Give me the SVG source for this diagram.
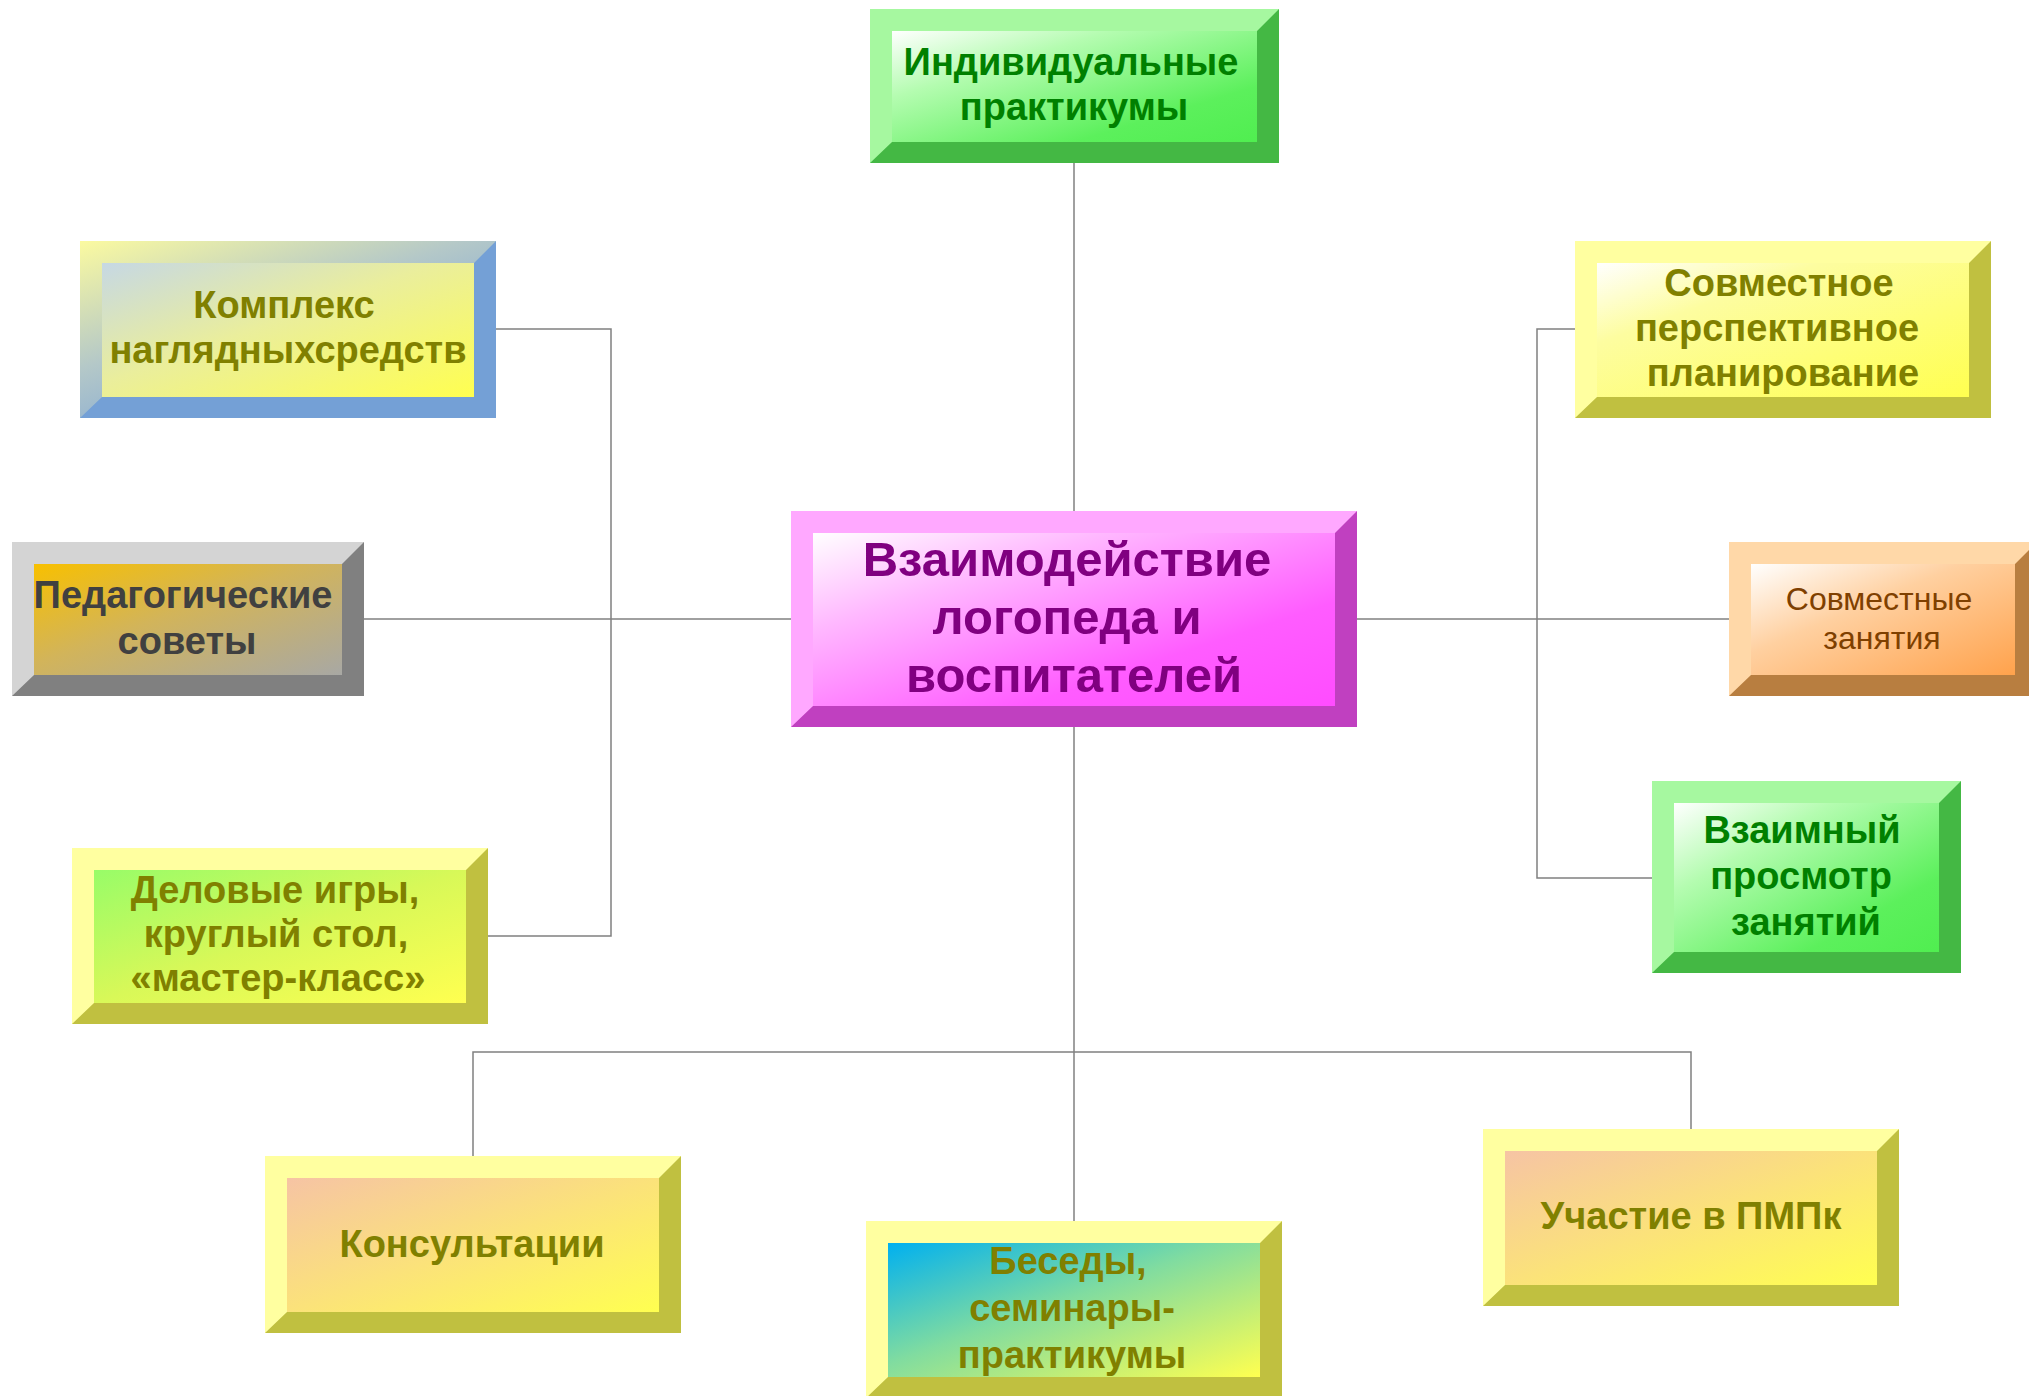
<svg xmlns="http://www.w3.org/2000/svg" width="2029" height="1396" viewBox="0 0 2029 1396">
<defs>
<linearGradient id="gGreen" x1="0" y1="0" x2="1" y2="1"><stop offset="0" stop-color="#ffffff"/><stop offset="0.3" stop-color="#b4fcb0"/><stop offset="0.75" stop-color="#5cf05c"/><stop offset="1" stop-color="#50ee50"/></linearGradient>
<linearGradient id="gKompl" x1="0" y1="0" x2="1" y2="1"><stop offset="0" stop-color="#c6d8e4"/><stop offset="0.45" stop-color="#eaee9c"/><stop offset="1" stop-color="#ffff50"/></linearGradient>
<linearGradient id="gKomplBevel" x1="0" y1="0" x2="0.7" y2="0.9"><stop offset="0" stop-color="#fbfaa0"/><stop offset="0.5" stop-color="#b4c8c8"/><stop offset="1" stop-color="#76a0d8"/></linearGradient>
<linearGradient id="gPed" x1="0" y1="0" x2="1" y2="1"><stop offset="0" stop-color="#f8c000"/><stop offset="0.45" stop-color="#d2b45a"/><stop offset="1" stop-color="#a8a8a4"/></linearGradient>
<linearGradient id="gPink" x1="0" y1="0" x2="1" y2="1"><stop offset="0" stop-color="#ffffff"/><stop offset="0.28" stop-color="#ffb8ff"/><stop offset="0.7" stop-color="#ff5cff"/><stop offset="1" stop-color="#ff4cff"/></linearGradient>
<linearGradient id="gDel" x1="0" y1="0" x2="1" y2="1"><stop offset="0" stop-color="#98fc68"/><stop offset="0.5" stop-color="#d8f858"/><stop offset="1" stop-color="#ffff50"/></linearGradient>
<linearGradient id="gYellow" x1="0" y1="0" x2="1" y2="1"><stop offset="0" stop-color="#ffffff"/><stop offset="0.3" stop-color="#fdfda0"/><stop offset="1" stop-color="#ffff50"/></linearGradient>
<linearGradient id="gOrange" x1="0" y1="0" x2="1" y2="1"><stop offset="0" stop-color="#ffffff"/><stop offset="0.4" stop-color="#ffd0a0"/><stop offset="1" stop-color="#ffa24c"/></linearGradient>
<linearGradient id="gPeach" x1="0" y1="0" x2="1" y2="1"><stop offset="0" stop-color="#f6c4a4"/><stop offset="0.5" stop-color="#fbe27a"/><stop offset="1" stop-color="#ffff50"/></linearGradient>
<linearGradient id="gCyan" x1="0" y1="0" x2="1" y2="1"><stop offset="0" stop-color="#00b0f0"/><stop offset="0.45" stop-color="#80dca0"/><stop offset="1" stop-color="#ffff50"/></linearGradient>
<style>
.t{font-family:"Liberation Sans",Arial,sans-serif;font-weight:bold;font-size:38px;text-anchor:middle}
.olive{fill:#808000}
.green{fill:#008000}
.conn{stroke:#808080;stroke-width:1.5;fill:none}
</style>
</defs>
<rect width="2029" height="1396" fill="#ffffff"/>

<g id="connectors">
<path class="conn" d="M1074,163 V511"/>
<path class="conn" d="M1074,727 V1221"/>
<path class="conn" d="M364,619 H791"/>
<path class="conn" d="M1357,619 H1729"/>
<path class="conn" d="M496,329 H611 V936 H488"/>
<path class="conn" d="M1575,329 H1537 V878 H1652"/>
<path class="conn" d="M473,1156 V1052 H1691 V1129"/>
</g>

<g id="node-individual">
<rect x="870" y="9" width="409" height="154" fill="#a6f8a0"/>
<polygon points="1279,9 1279,163 870,163 892,142 1257,142 1257,31" fill="#44b844"/>
<rect x="892" y="31" width="365" height="111" fill="url(#gGreen)"/>
<text class="t green" x="1071" y="75">Индивидуальные</text>
<text class="t green" x="1074" y="120">практикумы</text>
</g>

<g id="node-kompleks">
<rect x="80" y="241" width="416" height="177" fill="url(#gKomplBevel)"/>
<polygon points="496,241 496,418 80,418 102,397 474,397 474,263" fill="#74a0d6"/>
<rect x="102" y="263" width="372" height="134" fill="url(#gKompl)"/>
<text class="t olive" x="284" y="318">Комплекс</text>
<text class="t olive" x="288" y="363">наглядныхсредств</text>
</g>

<g id="node-pedsovet">
<rect x="12" y="542" width="352" height="154" fill="#d4d4d4"/>
<polygon points="364,542 364,696 12,696 34,675 342,675 342,564" fill="#808080"/>
<rect x="34" y="564" width="308" height="111" fill="url(#gPed)"/>
<text class="t" fill="#404040" x="183" y="608">Педагогические</text>
<text class="t" fill="#404040" x="187" y="654">советы</text>
</g>

<g id="node-center">
<rect x="791" y="511" width="566" height="216" fill="#ffa8ff"/>
<polygon points="1357,511 1357,727 791,727 813,706 1335,706 1335,533" fill="#c040c0"/>
<rect x="813" y="533" width="522" height="173" fill="url(#gPink)"/>
<text class="t" fill="#800080" style="font-size:49px" x="1067" y="576">Взаимодействие</text>
<text class="t" fill="#800080" style="font-size:49px" x="1067" y="634">логопеда и</text>
<text class="t" fill="#800080" style="font-size:49px" x="1074" y="692">воспитателей</text>
</g>

<g id="node-delovye">
<rect x="72" y="848" width="416" height="176" fill="#ffffa0"/>
<polygon points="488,848 488,1024 72,1024 94,1003 466,1003 466,870" fill="#c0c040"/>
<rect x="94" y="870" width="372" height="133" fill="url(#gDel)"/>
<text class="t olive" x="275" y="903">Деловые игры,</text>
<text class="t olive" x="276" y="947">круглый стол,</text>
<text class="t olive" x="278" y="991">«мастер-класс»</text>
</g>

<g id="node-sovm-plan">
<rect x="1575" y="241" width="416" height="177" fill="#ffffa0"/>
<polygon points="1991,241 1991,418 1575,418 1597,397 1969,397 1969,263" fill="#c0c040"/>
<rect x="1597" y="263" width="372" height="134" fill="url(#gYellow)"/>
<text class="t olive" x="1779" y="296">Совместное</text>
<text class="t olive" x="1777" y="341">перспективное</text>
<text class="t olive" x="1783" y="386">планирование</text>
</g>

<g id="node-sovm-zan">
<rect x="1729" y="542" width="308" height="154" fill="#ffd8a8"/>
<polygon points="2037,542 2037,696 1729,696 1751,675 2015,675 2015,564" fill="#b87e40"/>
<rect x="1751" y="564" width="264" height="111" fill="url(#gOrange)"/>
<text class="t" fill="#7f4000" style="font-weight:normal;font-size:32px" x="1879" y="610">Совместные</text>
<text class="t" fill="#7f4000" style="font-weight:normal;font-size:32px" x="1882" y="649">занятия</text>
</g>

<g id="node-vzaim">
<rect x="1652" y="781" width="309" height="192" fill="#a6f8a0"/>
<polygon points="1961,781 1961,973 1652,973 1674,952 1939,952 1939,803" fill="#44b844"/>
<rect x="1674" y="803" width="265" height="149" fill="url(#gGreen)"/>
<text class="t green" x="1802" y="843">Взаимный</text>
<text class="t green" x="1801" y="889">просмотр</text>
<text class="t green" x="1806" y="935">занятий</text>
</g>

<g id="node-konsult">
<rect x="265" y="1156" width="416" height="177" fill="#ffffa0"/>
<polygon points="681,1156 681,1333 265,1333 287,1312 659,1312 659,1178" fill="#c0c040"/>
<rect x="287" y="1178" width="372" height="134" fill="url(#gPeach)"/>
<text class="t olive" x="472" y="1257">Консультации</text>
</g>

<g id="node-besedy">
<rect x="866" y="1221" width="416" height="177" fill="#ffffa0"/>
<polygon points="1282,1221 1282,1398 866,1398 888,1377 1260,1377 1260,1243" fill="#c0c040"/>
<rect x="888" y="1243" width="372" height="134" fill="url(#gCyan)"/>
<text class="t olive" x="1068" y="1274">Беседы,</text>
<text class="t olive" x="1072" y="1321">семинары-</text>
<text class="t olive" x="1072" y="1368">практикумы</text>
</g>

<g id="node-pmpk">
<rect x="1483" y="1129" width="416" height="177" fill="#ffffa0"/>
<polygon points="1899,1129 1899,1306 1483,1306 1505,1285 1877,1285 1877,1151" fill="#c0c040"/>
<rect x="1505" y="1151" width="372" height="134" fill="url(#gPeach)"/>
<text class="t olive" x="1691" y="1229">Участие в ПМПк</text>
</g>
</svg>
